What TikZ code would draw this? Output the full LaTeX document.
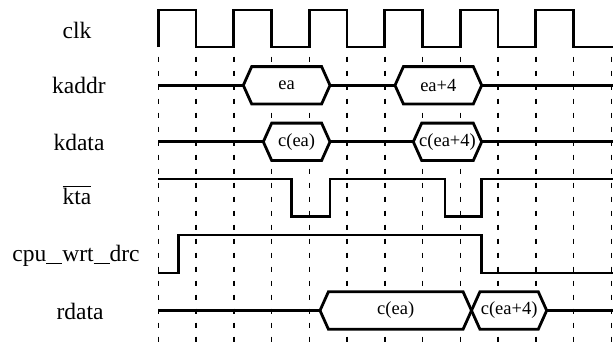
\documentclass[tikz,border=0pt]{standalone}
\usepackage{fontspec}
\setmainfont{Liberation Serif}
\newcommand{\wideus}{\rule[-0.12em]{0.68em}{0.055em}}
\begin{document}
\begin{tikzpicture}[x=1pt,y=-1pt,
  sig/.style={line width=2.8pt,line join=miter},
  grid/.style={line width=1.4pt,dash pattern=on 5pt off 9pt,dash phase=0pt},
  hexbox/.style={sig,fill=white},
  lbl/.style={font=\fontsize{23.5}{27}\selectfont,anchor=center,inner sep=0pt},
  htxt/.style={font=\fontsize{18.5}{22}\selectfont,anchor=center,inner sep=0pt}]
\useasboundingbox (0,0) rectangle (613,343);
\def\xo{158.3}\def\u{37.75}
% grid lines
\foreach \k in {0,...,12}{
  \draw[grid] ({\xo+\k*\u},56.5) -- ({\xo+\k*\u},343);
}
% labels
\node[lbl] (Lclk) at (77,30) {clk};
\node[lbl] (Lkaddr) at (79,85) {kaddr};
\node[lbl] (Lkdata) at (79,142) {kdata};
\node[lbl] (Lkta) at (77,195) {$\overline{\mbox{kta}}$};
\node[lbl] (Lcpu) at (76,256) {cpu\wideus wrt\wideus drc};
\node[lbl] (Lrdata) at (80,311) {rdata};
% clock
\draw[sig] (\xo,47)
  \foreach \k in {0,...,5}{
    -- ({\xo+2*\k*\u},10) -- ({\xo+(2*\k+1)*\u},10) -- ({\xo+(2*\k+1)*\u},47) -- ({\xo+(2*\k+2)*\u},47)
  } -- (614,47);
% kaddr
\draw[sig] (\xo,85.3) -- (243.3,85.3);
\draw[sig] (330,85.3) -- (395,85.3);
\draw[sig] (481.7,85.3) -- (614,85.3);
\draw[hexbox] (243.3,85.3) -- (251.7,66.6) -- (321.6,66.6) -- (330,85.3) -- (321.6,104) -- (251.7,104) -- cycle;
\draw[hexbox] (395,85.3) -- (403.4,66.6) -- (473.3,66.6) -- (481.7,85.3) -- (473.3,104) -- (403.4,104) -- cycle;
\node[htxt] (ea1) at (286.6,85.3) {ea};
\node[htxt] (ea2) at (438.3,85.3) {ea+4};
% kdata
\draw[sig] (\xo,141.8) -- (263.3,141.8);
\draw[sig] (330,141.8) -- (413.3,141.8);
\draw[sig] (481.7,141.8) -- (614,141.8);
\draw[hexbox] (263.3,141.8) -- (271.7,123.1) -- (321.6,123.1) -- (330,141.8) -- (321.6,160.5) -- (271.7,160.5) -- cycle;
\draw[hexbox] (413.3,141.8) -- (421.7,123.1) -- (473.3,123.1) -- (481.7,141.8) -- (473.3,160.5) -- (421.7,160.5) -- cycle;
\node[htxt] (cd1) at (296.6,141.8) {c(ea)};
\node[htxt] (cd2) at (447.5,141.8) {c(ea+4)};
% kta
\draw[sig] (\xo,179) -- (291.7,179) -- (291.7,216.7) -- (330,216.7) -- (330,179)
  -- (445,179) -- (445,216.7) -- (481.3,216.7) -- (481.3,179) -- (614,179);
% cpu_wrt_drc
\draw[sig] (\xo,273) -- (178.3,273) -- (178.3,235) -- (481.3,235) -- (481.3,273) -- (614,273);
% rdata
\draw[sig] (\xo,310.5) -- (320,310.5);
\draw[sig] (546.7,310.5) -- (614,310.5);
\draw[hexbox] (320,310.5) -- (328.4,291.8) -- (463.1,291.8) -- (471.5,310.5) -- (463.1,329.2) -- (328.4,329.2) -- cycle;
\draw[hexbox] (471.5,310.5) -- (479.9,291.8) -- (538.3,291.8) -- (546.7,310.5) -- (538.3,329.2) -- (479.9,329.2) -- cycle;
\node[htxt] (rd1) at (395.7,310.5) {c(ea)};
\node[htxt] (rd2) at (509.1,310.5) {c(ea+4)};
\end{tikzpicture}
\end{document}
